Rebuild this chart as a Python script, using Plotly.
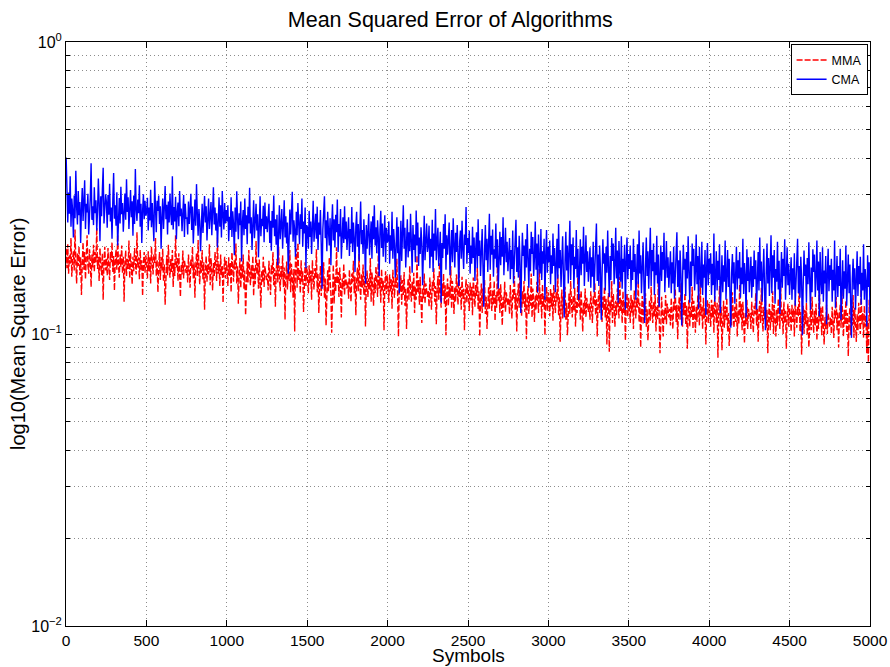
import numpy as np
import plotly.graph_objects as go

cma = [
    # 0-250
    0.402, 0.276, 0.241, 0.305, 0.258, 0.347, 0.233, 0.291, 0.266, 0.214,
    0.298, 0.249, 0.362, 0.272, 0.237, 0.309, 0.255, 0.283, 0.205, 0.268,
    0.316, 0.244, 0.289, 0.336, 0.229, 0.279, 0.261, 0.302, 0.219, 0.252,
    0.293, 0.384, 0.246, 0.274, 0.236, 0.318, 0.259, 0.287, 0.226, 0.264,
    0.341, 0.281, 0.208, 0.296, 0.253, 0.311, 0.371, 0.239, 0.269, 0.301,
    # 250-500
    0.284, 0.231, 0.299, 0.256, 0.327, 0.243, 0.271, 0.212, 0.288, 0.356,
    0.248, 0.276, 0.235, 0.306, 0.201, 0.263, 0.292, 0.239, 0.319, 0.257,
    0.281, 0.224, 0.268, 0.303, 0.246, 0.339, 0.262, 0.294, 0.229, 0.273,
    0.311, 0.251, 0.285, 0.217, 0.298, 0.238, 0.367, 0.266, 0.244, 0.289,
    0.259, 0.323, 0.233, 0.279, 0.205, 0.264, 0.301, 0.247, 0.286, 0.254,
    # 500-750
    0.262, 0.293, 0.226, 0.271, 0.245, 0.312, 0.232, 0.281, 0.249, 0.208,
    0.334, 0.255, 0.223, 0.286, 0.264, 0.298, 0.238, 0.274, 0.196, 0.251,
    0.291, 0.229, 0.266, 0.321, 0.247, 0.277, 0.219, 0.284, 0.241, 0.303,
    0.258, 0.236, 0.347, 0.228, 0.272, 0.243, 0.295, 0.211, 0.261, 0.282,
    0.234, 0.309, 0.253, 0.269, 0.225, 0.265, 0.299, 0.215, 0.279, 0.248,
    # 750-1000
    0.251, 0.219, 0.284, 0.238, 0.262, 0.302, 0.227, 0.273, 0.204, 0.246,
    0.289, 0.235, 0.326, 0.258, 0.217, 0.268, 0.243, 0.192, 0.236, 0.279,
    0.222, 0.261, 0.297, 0.241, 0.274, 0.209, 0.253, 0.291, 0.229, 0.264,
    0.283, 0.218, 0.249, 0.318, 0.237, 0.271, 0.226, 0.259, 0.198, 0.247,
    0.294, 0.233, 0.276, 0.214, 0.309, 0.255, 0.228, 0.281, 0.239, 0.266,
    # 1000-1250
    0.243, 0.276, 0.208, 0.252, 0.227, 0.294, 0.215, 0.263, 0.238, 0.186,
    0.271, 0.224, 0.308, 0.249, 0.211, 0.259, 0.236, 0.284, 0.177, 0.241,
    0.266, 0.218, 0.291, 0.229, 0.255, 0.203, 0.273, 0.239, 0.317, 0.221,
    0.251, 0.194, 0.262, 0.287, 0.213, 0.245, 0.279, 0.226, 0.257, 0.183,
    0.264, 0.296, 0.216, 0.248, 0.234, 0.275, 0.206, 0.282, 0.229, 0.253,
    # 1250-1500
    0.223, 0.258, 0.279, 0.205, 0.244, 0.193, 0.264, 0.231, 0.298, 0.216,
    0.247, 0.202, 0.256, 0.172, 0.235, 0.276, 0.211, 0.249, 0.268, 0.196,
    0.229, 0.287, 0.214, 0.253, 0.204, 0.241, 0.161, 0.233, 0.267, 0.219,
    0.252, 0.307, 0.207, 0.245, 0.226, 0.184, 0.262, 0.218, 0.281, 0.238,
    0.203, 0.257, 0.229, 0.291, 0.199, 0.243, 0.221, 0.271, 0.168, 0.236,
    # 1500-1750
    0.231, 0.196, 0.264, 0.215, 0.243, 0.188, 0.252, 0.286, 0.207, 0.236,
    0.258, 0.212, 0.273, 0.194, 0.241, 0.219, 0.266, 0.203, 0.143, 0.228,
    0.254, 0.296, 0.213, 0.245, 0.192, 0.262, 0.225, 0.201, 0.249, 0.172,
    0.234, 0.278, 0.209, 0.247, 0.198, 0.256, 0.223, 0.289, 0.191, 0.238,
    0.216, 0.268, 0.181, 0.229, 0.251, 0.205, 0.274, 0.211, 0.243, 0.194,
    # 1750-2000
    0.218, 0.251, 0.185, 0.229, 0.204, 0.272, 0.191, 0.241, 0.213, 0.163,
    0.234, 0.262, 0.199, 0.238, 0.178, 0.216, 0.284, 0.203, 0.227, 0.188,
    0.247, 0.209, 0.149, 0.236, 0.196, 0.224, 0.258, 0.186, 0.219, 0.243,
    0.181, 0.253, 0.211, 0.276, 0.201, 0.232, 0.189, 0.245, 0.214, 0.158,
    0.228, 0.264, 0.197, 0.239, 0.184, 0.221, 0.255, 0.176, 0.231, 0.206,
    # 2000-2250
    0.209, 0.243, 0.174, 0.218, 0.193, 0.262, 0.181, 0.229, 0.204, 0.156,
    0.221, 0.251, 0.189, 0.233, 0.138, 0.206, 0.244, 0.178, 0.215, 0.276,
    0.196, 0.231, 0.169, 0.211, 0.247, 0.183, 0.223, 0.192, 0.258, 0.207,
    0.162, 0.236, 0.194, 0.219, 0.176, 0.265, 0.201, 0.241, 0.171, 0.214,
    0.188, 0.232, 0.205, 0.147, 0.217, 0.254, 0.179, 0.208, 0.239, 0.191,
    # 2250-2500
    0.201, 0.235, 0.168, 0.212, 0.184, 0.246, 0.163, 0.221, 0.193, 0.268,
    0.179, 0.209, 0.231, 0.171, 0.198, 0.224, 0.128, 0.205, 0.182, 0.238,
    0.196, 0.257, 0.166, 0.218, 0.187, 0.211, 0.241, 0.159, 0.199, 0.227,
    0.176, 0.249, 0.203, 0.169, 0.222, 0.191, 0.236, 0.178, 0.146, 0.207,
    0.226, 0.181, 0.244, 0.194, 0.167, 0.219, 0.202, 0.272, 0.174, 0.213,
    # 2500-2750
    0.189, 0.226, 0.161, 0.201, 0.174, 0.233, 0.182, 0.214, 0.152, 0.196,
    0.223, 0.168, 0.247, 0.185, 0.209, 0.158, 0.198, 0.229, 0.171, 0.124,
    0.193, 0.236, 0.179, 0.212, 0.163, 0.204, 0.258, 0.166, 0.217, 0.187,
    0.228, 0.157, 0.195, 0.181, 0.239, 0.169, 0.211, 0.143, 0.199, 0.224,
    0.172, 0.215, 0.184, 0.251, 0.159, 0.202, 0.231, 0.176, 0.207, 0.164,
    # 2750-3000
    0.182, 0.213, 0.154, 0.194, 0.167, 0.226, 0.149, 0.187, 0.209, 0.246,
    0.163, 0.198, 0.156, 0.217, 0.178, 0.118, 0.171, 0.222, 0.185, 0.201,
    0.152, 0.211, 0.169, 0.238, 0.181, 0.144, 0.196, 0.164, 0.224, 0.188,
    0.215, 0.158, 0.183, 0.243, 0.166, 0.204, 0.139, 0.219, 0.177, 0.161,
    0.229, 0.153, 0.192, 0.174, 0.212, 0.131, 0.186, 0.227, 0.162, 0.199,
    # 3000-3250
    0.176, 0.209, 0.148, 0.186, 0.161, 0.221, 0.171, 0.197, 0.139, 0.183,
    0.212, 0.155, 0.238, 0.168, 0.194, 0.145, 0.181, 0.216, 0.158, 0.114,
    0.179, 0.224, 0.165, 0.201, 0.149, 0.188, 0.244, 0.153, 0.203, 0.172,
    0.214, 0.143, 0.184, 0.167, 0.227, 0.156, 0.196, 0.131, 0.182, 0.211,
    0.159, 0.199, 0.174, 0.233, 0.146, 0.187, 0.218, 0.163, 0.192, 0.151,
    # 3250-3500
    0.171, 0.198, 0.144, 0.183, 0.157, 0.207, 0.139, 0.176, 0.194, 0.239,
    0.152, 0.187, 0.146, 0.201, 0.168, 0.112, 0.159, 0.211, 0.174, 0.189,
    0.141, 0.199, 0.162, 0.226, 0.169, 0.134, 0.185, 0.153, 0.213, 0.178,
    0.204, 0.148, 0.172, 0.231, 0.155, 0.193, 0.128, 0.208, 0.166, 0.151,
    0.216, 0.143, 0.181, 0.163, 0.202, 0.121, 0.177, 0.214, 0.154, 0.188,
    # 3500-3750
    0.167, 0.201, 0.141, 0.179, 0.153, 0.212, 0.163, 0.188, 0.131, 0.174,
    0.203, 0.148, 0.226, 0.161, 0.186, 0.138, 0.172, 0.206, 0.151, 0.109,
    0.171, 0.214, 0.158, 0.192, 0.143, 0.179, 0.231, 0.146, 0.194, 0.164,
    0.204, 0.136, 0.176, 0.159, 0.217, 0.149, 0.187, 0.124, 0.173, 0.201,
    0.152, 0.191, 0.166, 0.222, 0.139, 0.178, 0.208, 0.156, 0.183, 0.144,
    # 3750-4000
    0.163, 0.192, 0.138, 0.176, 0.149, 0.199, 0.132, 0.168, 0.187, 0.223,
    0.145, 0.179, 0.139, 0.193, 0.161, 0.107, 0.152, 0.202, 0.166, 0.181,
    0.135, 0.191, 0.155, 0.216, 0.162, 0.128, 0.177, 0.146, 0.204, 0.171,
    0.196, 0.141, 0.164, 0.219, 0.148, 0.185, 0.122, 0.199, 0.158, 0.144,
    0.207, 0.136, 0.173, 0.156, 0.194, 0.116, 0.169, 0.205, 0.147, 0.181,
    # 4000-4250
    0.161, 0.189, 0.136, 0.174, 0.147, 0.221, 0.129, 0.166, 0.192, 0.141,
    0.178, 0.153, 0.203, 0.118, 0.163, 0.186, 0.139, 0.172, 0.151, 0.209,
    0.131, 0.168, 0.194, 0.145, 0.181, 0.134, 0.105, 0.162, 0.188, 0.149,
    0.176, 0.127, 0.165, 0.199, 0.142, 0.179, 0.155, 0.191, 0.133, 0.169,
    0.148, 0.212, 0.137, 0.175, 0.158, 0.114, 0.195, 0.152, 0.183, 0.139,
    # 4250-4500
    0.157, 0.184, 0.133, 0.171, 0.145, 0.193, 0.154, 0.179, 0.121, 0.166,
    0.191, 0.141, 0.214, 0.152, 0.177, 0.129, 0.164, 0.196, 0.143, 0.103,
    0.162, 0.204, 0.149, 0.182, 0.135, 0.169, 0.218, 0.138, 0.186, 0.156,
    0.194, 0.127, 0.167, 0.151, 0.207, 0.142, 0.178, 0.117, 0.165, 0.191,
    0.144, 0.181, 0.158, 0.211, 0.131, 0.169, 0.198, 0.147, 0.174, 0.136,
    # 4500-4750
    0.155, 0.183, 0.131, 0.168, 0.142, 0.189, 0.125, 0.159, 0.178, 0.212,
    0.138, 0.171, 0.133, 0.184, 0.153, 0.099, 0.146, 0.193, 0.158, 0.173,
    0.128, 0.182, 0.148, 0.206, 0.155, 0.121, 0.169, 0.139, 0.195, 0.163,
    0.187, 0.134, 0.157, 0.209, 0.141, 0.177, 0.115, 0.191, 0.151, 0.137,
    0.198, 0.129, 0.165, 0.149, 0.185, 0.108, 0.161, 0.196, 0.140, 0.172,
    # 4750-5000
    0.153, 0.181, 0.129, 0.166, 0.141, 0.209, 0.123, 0.158, 0.185, 0.134,
    0.171, 0.146, 0.196, 0.112, 0.155, 0.179, 0.132, 0.164, 0.143, 0.201,
    0.125, 0.161, 0.187, 0.138, 0.173, 0.127, 0.097, 0.154, 0.181, 0.142,
    0.168, 0.121, 0.157, 0.192, 0.135, 0.171, 0.148, 0.184, 0.126, 0.162,
    0.141, 0.203, 0.131, 0.167, 0.151, 0.106, 0.186, 0.145, 0.176, 0.118,
]

mma = [
    # 0-250
    0.196, 0.168, 0.203, 0.161, 0.186, 0.174, 0.213, 0.157, 0.181, 0.192,
    0.165, 0.228, 0.177, 0.149, 0.189, 0.171, 0.199, 0.159, 0.183, 0.136,
    0.174, 0.206, 0.166, 0.191, 0.154, 0.181, 0.218, 0.172, 0.161, 0.195,
    0.179, 0.145, 0.187, 0.169, 0.202, 0.163, 0.191, 0.176, 0.231, 0.167,
    0.184, 0.152, 0.197, 0.172, 0.159, 0.189, 0.131, 0.177, 0.199, 0.165,
    # 250-500
    0.182, 0.159, 0.197, 0.169, 0.153, 0.191, 0.176, 0.206, 0.163, 0.185,
    0.141, 0.179, 0.195, 0.166, 0.219, 0.173, 0.156, 0.187, 0.170, 0.201,
    0.161, 0.184, 0.129, 0.175, 0.193, 0.158, 0.181, 0.167, 0.209, 0.155,
    0.189, 0.172, 0.148, 0.184, 0.164, 0.197, 0.177, 0.160, 0.223, 0.169,
    0.183, 0.154, 0.194, 0.166, 0.179, 0.135, 0.173, 0.191, 0.162, 0.186,
    # 500-750
    0.176, 0.155, 0.192, 0.164, 0.184, 0.149, 0.199, 0.171, 0.160, 0.187,
    0.174, 0.213, 0.158, 0.180, 0.139, 0.168, 0.191, 0.153, 0.183, 0.165,
    0.196, 0.151, 0.173, 0.126, 0.166, 0.186, 0.159, 0.202, 0.171, 0.156,
    0.181, 0.163, 0.194, 0.145, 0.175, 0.158, 0.218, 0.168, 0.182, 0.152,
    0.189, 0.165, 0.134, 0.173, 0.160, 0.193, 0.155, 0.179, 0.169, 0.162,
    # 750-1000
    0.172, 0.150, 0.187, 0.162, 0.144, 0.181, 0.168, 0.199, 0.155, 0.176,
    0.133, 0.170, 0.189, 0.158, 0.210, 0.165, 0.148, 0.179, 0.162, 0.194,
    0.153, 0.176, 0.121, 0.166, 0.185, 0.151, 0.173, 0.160, 0.203, 0.147,
    0.182, 0.164, 0.141, 0.175, 0.157, 0.191, 0.169, 0.152, 0.214, 0.161,
    0.174, 0.146, 0.187, 0.159, 0.171, 0.128, 0.165, 0.184, 0.155, 0.178,
    # 1000-1250
    0.167, 0.146, 0.183, 0.158, 0.175, 0.139, 0.190, 0.163, 0.151, 0.179,
    0.166, 0.204, 0.149, 0.171, 0.127, 0.159, 0.182, 0.144, 0.174, 0.156,
    0.187, 0.142, 0.165, 0.116, 0.157, 0.177, 0.150, 0.194, 0.163, 0.147,
    0.172, 0.154, 0.185, 0.135, 0.168, 0.148, 0.208, 0.160, 0.175, 0.143,
    0.180, 0.157, 0.123, 0.165, 0.151, 0.184, 0.145, 0.171, 0.161, 0.153,
    # 1250-1500
    0.161, 0.141, 0.178, 0.153, 0.136, 0.172, 0.160, 0.191, 0.147, 0.168,
    0.124, 0.163, 0.181, 0.150, 0.199, 0.157, 0.140, 0.171, 0.154, 0.186,
    0.145, 0.169, 0.112, 0.158, 0.177, 0.142, 0.166, 0.152, 0.194, 0.139,
    0.174, 0.156, 0.133, 0.167, 0.102, 0.183, 0.196, 0.144, 0.205, 0.153,
    0.167, 0.138, 0.179, 0.151, 0.164, 0.119, 0.157, 0.176, 0.146, 0.170,
    # 1500-1750
    0.157, 0.138, 0.172, 0.149, 0.165, 0.131, 0.179, 0.153, 0.142, 0.168,
    0.156, 0.195, 0.139, 0.161, 0.118, 0.150, 0.171, 0.135, 0.164, 0.146,
    0.176, 0.133, 0.155, 0.107, 0.147, 0.166, 0.140, 0.183, 0.153, 0.138,
    0.101, 0.145, 0.173, 0.127, 0.157, 0.140, 0.198, 0.149, 0.163, 0.134,
    0.169, 0.146, 0.114, 0.155, 0.142, 0.174, 0.136, 0.160, 0.150, 0.143,
    # 1750-2000
    0.151, 0.132, 0.166, 0.144, 0.129, 0.161, 0.150, 0.178, 0.138, 0.157,
    0.116, 0.152, 0.169, 0.140, 0.188, 0.147, 0.131, 0.160, 0.144, 0.173,
    0.136, 0.158, 0.106, 0.148, 0.165, 0.134, 0.155, 0.142, 0.182, 0.129,
    0.163, 0.146, 0.125, 0.156, 0.138, 0.170, 0.151, 0.134, 0.193, 0.143,
    0.156, 0.128, 0.167, 0.141, 0.153, 0.103, 0.147, 0.164, 0.137, 0.159,
    # 2000-2250
    0.146, 0.128, 0.160, 0.139, 0.154, 0.122, 0.166, 0.142, 0.133, 0.156,
    0.144, 0.181, 0.130, 0.098, 0.150, 0.140, 0.159, 0.126, 0.153, 0.136,
    0.163, 0.125, 0.143, 0.104, 0.137, 0.155, 0.131, 0.171, 0.142, 0.129,
    0.151, 0.135, 0.162, 0.118, 0.145, 0.131, 0.186, 0.139, 0.153, 0.126,
    0.157, 0.136, 0.109, 0.143, 0.132, 0.161, 0.127, 0.149, 0.140, 0.134,
    # 2250-2500
    0.141, 0.124, 0.156, 0.135, 0.121, 0.151, 0.140, 0.168, 0.129, 0.146,
    0.108, 0.142, 0.158, 0.131, 0.176, 0.138, 0.123, 0.149, 0.135, 0.161,
    0.127, 0.147, 0.099, 0.139, 0.155, 0.125, 0.145, 0.133, 0.171, 0.122,
    0.152, 0.137, 0.117, 0.145, 0.129, 0.160, 0.142, 0.126, 0.179, 0.134,
    0.145, 0.121, 0.157, 0.132, 0.143, 0.103, 0.138, 0.154, 0.128, 0.148,
    # 2500-2750
    0.137, 0.120, 0.150, 0.130, 0.145, 0.116, 0.156, 0.133, 0.124, 0.147,
    0.135, 0.169, 0.121, 0.140, 0.098, 0.131, 0.149, 0.118, 0.143, 0.127,
    0.153, 0.117, 0.134, 0.104, 0.128, 0.145, 0.122, 0.161, 0.133, 0.120,
    0.141, 0.126, 0.152, 0.111, 0.136, 0.123, 0.171, 0.130, 0.144, 0.118,
    0.148, 0.128, 0.107, 0.134, 0.123, 0.151, 0.119, 0.139, 0.131, 0.125,
    # 2750-3000
    0.133, 0.117, 0.147, 0.127, 0.113, 0.142, 0.132, 0.158, 0.121, 0.138,
    0.102, 0.134, 0.149, 0.123, 0.165, 0.130, 0.115, 0.140, 0.127, 0.152,
    0.119, 0.138, 0.096, 0.131, 0.146, 0.117, 0.136, 0.125, 0.161, 0.114,
    0.143, 0.129, 0.110, 0.136, 0.121, 0.151, 0.133, 0.118, 0.167, 0.126,
    0.137, 0.113, 0.148, 0.124, 0.135, 0.099, 0.130, 0.145, 0.120, 0.139,
    # 3000-3250
    0.131, 0.115, 0.143, 0.124, 0.138, 0.111, 0.147, 0.127, 0.118, 0.140,
    0.129, 0.160, 0.116, 0.134, 0.094, 0.125, 0.142, 0.113, 0.136, 0.121,
    0.145, 0.112, 0.128, 0.099, 0.122, 0.138, 0.117, 0.152, 0.127, 0.114,
    0.135, 0.120, 0.144, 0.106, 0.130, 0.118, 0.161, 0.124, 0.137, 0.112,
    0.141, 0.122, 0.102, 0.128, 0.117, 0.143, 0.114, 0.133, 0.125, 0.119,
    # 3250-3500
    0.127, 0.112, 0.140, 0.121, 0.109, 0.135, 0.126, 0.150, 0.116, 0.132,
    0.098, 0.128, 0.141, 0.118, 0.156, 0.124, 0.110, 0.134, 0.121, 0.145,
    0.114, 0.132, 0.092, 0.125, 0.138, 0.087, 0.130, 0.119, 0.152, 0.109,
    0.137, 0.123, 0.106, 0.130, 0.116, 0.143, 0.127, 0.113, 0.157, 0.120,
    0.131, 0.109, 0.140, 0.118, 0.129, 0.095, 0.124, 0.138, 0.115, 0.133,
    # 3500-3750
    0.125, 0.109, 0.136, 0.118, 0.131, 0.104, 0.141, 0.121, 0.113, 0.133,
    0.123, 0.152, 0.110, 0.128, 0.090, 0.119, 0.135, 0.108, 0.130, 0.116,
    0.138, 0.106, 0.122, 0.095, 0.117, 0.131, 0.111, 0.145, 0.121, 0.109,
    0.129, 0.115, 0.137, 0.102, 0.124, 0.112, 0.155, 0.118, 0.086, 0.107,
    0.134, 0.117, 0.098, 0.122, 0.112, 0.136, 0.108, 0.127, 0.120, 0.114,
    # 3750-4000
    0.122, 0.107, 0.133, 0.116, 0.104, 0.129, 0.121, 0.143, 0.110, 0.126,
    0.096, 0.123, 0.134, 0.112, 0.149, 0.119, 0.106, 0.128, 0.116, 0.138,
    0.108, 0.125, 0.089, 0.120, 0.131, 0.106, 0.124, 0.114, 0.145, 0.104,
    0.130, 0.118, 0.101, 0.124, 0.110, 0.136, 0.122, 0.107, 0.151, 0.115,
    0.125, 0.104, 0.133, 0.113, 0.123, 0.092, 0.119, 0.131, 0.109, 0.127,
    # 4000-4250
    0.121, 0.106, 0.131, 0.114, 0.126, 0.101, 0.135, 0.117, 0.109, 0.128,
    0.083, 0.119, 0.146, 0.106, 0.124, 0.088, 0.115, 0.130, 0.105, 0.125,
    0.112, 0.133, 0.102, 0.118, 0.091, 0.113, 0.126, 0.107, 0.139, 0.117,
    0.105, 0.124, 0.110, 0.132, 0.098, 0.120, 0.108, 0.148, 0.114, 0.127,
    0.103, 0.129, 0.113, 0.093, 0.118, 0.108, 0.131, 0.104, 0.122, 0.115,
    # 4250-4500
    0.118, 0.104, 0.129, 0.112, 0.101, 0.125, 0.117, 0.138, 0.107, 0.122,
    0.094, 0.119, 0.130, 0.109, 0.144, 0.115, 0.102, 0.124, 0.112, 0.134,
    0.105, 0.121, 0.086, 0.116, 0.127, 0.103, 0.120, 0.110, 0.140, 0.100,
    0.126, 0.114, 0.098, 0.121, 0.107, 0.132, 0.118, 0.104, 0.146, 0.111,
    0.122, 0.100, 0.129, 0.109, 0.120, 0.089, 0.115, 0.127, 0.106, 0.123,
    # 4500-4750
    0.117, 0.102, 0.126, 0.110, 0.122, 0.098, 0.130, 0.113, 0.105, 0.124,
    0.115, 0.142, 0.102, 0.119, 0.085, 0.110, 0.125, 0.100, 0.121, 0.108,
    0.128, 0.099, 0.114, 0.090, 0.109, 0.122, 0.103, 0.134, 0.113, 0.101,
    0.120, 0.107, 0.127, 0.095, 0.115, 0.104, 0.144, 0.110, 0.123, 0.099,
    0.125, 0.108, 0.092, 0.114, 0.104, 0.126, 0.100, 0.118, 0.111, 0.106,
    # 4750-5000
    0.114, 0.100, 0.124, 0.108, 0.097, 0.121, 0.113, 0.134, 0.103, 0.119,
    0.090, 0.115, 0.126, 0.105, 0.140, 0.111, 0.098, 0.121, 0.108, 0.130,
    0.101, 0.118, 0.084, 0.112, 0.123, 0.099, 0.117, 0.107, 0.136, 0.097,
    0.123, 0.110, 0.094, 0.117, 0.103, 0.128, 0.114, 0.100, 0.142, 0.108,
    0.118, 0.097, 0.125, 0.106, 0.116, 0.086, 0.111, 0.080, 0.131, 0.109,
]

n_symbols = 5000
x_cma = np.linspace(1, n_symbols, len(cma))
x_mma = np.linspace(1, n_symbols, len(mma))

x_ticks = list(range(0, 5001, 500))
y_major = [0.01, 0.1, 1]
y_major_text = ["10<sup>\u22122</sup>", "10<sup>\u22121</sup>", "10<sup>0</sup>"]
y_minor = [m * d for d in (0.01, 0.1) for m in range(2, 10)]

FONT = "Liberation Sans, Arial, Helvetica, sans-serif"
GRID = "#8c8c8c"
GDASH = "1px,3px"

fig = go.Figure()
fig.add_trace(go.Scatter(x=x_mma, y=mma, mode="lines", name="MMA",
                         line=dict(color="#ff0000", width=1.4, dash="6px,2px")))
fig.add_trace(go.Scatter(x=x_cma, y=cma, mode="lines", name="CMA",
                         line=dict(color="#0000ff", width=1.4)))

fig.update_layout(
    width=890, height=667,
    margin=dict(l=66, r=20, t=42, b=41, autoexpand=False),
    paper_bgcolor="white", plot_bgcolor="white",
    font=dict(family=FONT, color="black", size=16),
    title=dict(text="Mean Squared Error of Algorithms", font=dict(size=21.5, family=FONT),
               x=0.478, xref="paper", xanchor="center",
               y=1 - 19 / 667, yref="container", yanchor="middle"),
    showlegend=True,
    legend=dict(x=0.997, y=0.996, xanchor="right", yanchor="top",
                bgcolor="white", bordercolor="black", borderwidth=1,
                font=dict(size=12.5, family=FONT), tracegroupgap=0,
                itemwidth=30),
    xaxis=dict(range=[0, 5000], tickvals=x_ticks, ticks="inside", ticklen=6,
               tickcolor="black", showline=True, linecolor="black", linewidth=1,
               mirror="ticks", showgrid=True, gridcolor=GRID, griddash=GDASH,
               gridwidth=1, zeroline=False, tickfont=dict(size=15.5), automargin=False),
    yaxis=dict(type="log", range=[-2, 0], tickvals=y_major, ticktext=y_major_text,
               ticks="inside", ticklen=6, tickcolor="black", showline=True,
               linecolor="black", linewidth=1, mirror="ticks", showgrid=True,
               gridcolor=GRID, griddash=GDASH, gridwidth=1, zeroline=False,
               tickfont=dict(size=16), automargin=False,
               minor=dict(tickvals=y_minor, ticks="inside", ticklen=4, tickcolor="black",
                          showgrid=True, gridcolor=GRID, griddash=GDASH, gridwidth=1)),
    annotations=[
        dict(text="Symbols", x=0.5, y=0, xref="paper", yref="paper",
             xanchor="center", yanchor="bottom", yshift=-41, showarrow=False,
             borderpad=0, font=dict(size=19, family=FONT)),
        dict(text="log10(Mean Square Error)", x=0, y=0.5, xref="paper", yref="paper",
             xanchor="center", yanchor="middle", xshift=-48, textangle=-90,
             showarrow=False, font=dict(size=20, family=FONT)),
    ],
)

fig.write_html("out.html")
